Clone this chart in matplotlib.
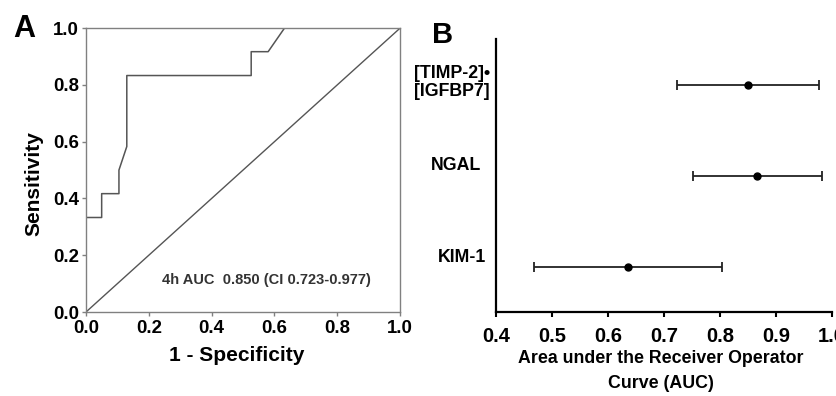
import matplotlib
matplotlib.use("Agg")
import matplotlib.pyplot as plt
import matplotlib.transforms as mtransforms

plt.rcParams['font.family'] = ['Liberation Sans', 'DejaVu Sans']
plt.rcParams['font.weight'] = 'bold'

# Panel A: ROC curve (1 - specificity, sensitivity)
roc_fpr = [0.0, 0.0, 0.05, 0.05, 0.105, 0.105, 0.13, 0.13, 0.526, 0.526, 0.58, 0.632, 1.0]
roc_tpr = [0.0, 0.333, 0.333, 0.417, 0.417, 0.5, 0.583, 0.833, 0.833, 0.917, 0.917, 1.0, 1.0]
roc_ticks = [0.0, 0.2, 0.4, 0.6, 0.8, 1.0]
auc_text = "4h AUC  0.850 (CI 0.723-0.977)"

# Panel B: AUC with confidence intervals
markers = ["[TIMP-2]\u2022\n[IGFBP7]", "NGAL", "KIM-1"]
auc = [0.850, 0.866, 0.636]
ci_low = [0.723, 0.751, 0.468]
ci_high = [0.977, 0.982, 0.804]
auc_ticks = [0.4, 0.5, 0.6, 0.7, 0.8, 0.9, 1.0]

fig = plt.figure(figsize=(8.37, 3.96), dpi=100)

# ---- panel A ----
axA = fig.add_axes([0.1027, 0.212, 0.3753, 0.717])
axA.plot(roc_fpr, roc_tpr, color='#555555', lw=1.1)
axA.plot([0, 1], [0, 1], color='#555555', lw=1.0)
axA.set_xlim(0, 1)
axA.set_ylim(0, 1)
axA.set_xticks(roc_ticks)
axA.set_yticks(roc_ticks)
axA.set_xticklabels([f"{t:.1f}" for t in roc_ticks])
axA.set_yticklabels([f"{t:.1f}" for t in roc_ticks])
for s in axA.spines.values():
    s.set_color('#808080')
    s.set_linewidth(1.0)
axA.tick_params(axis='both', direction='out', length=3, width=1.0, color='#808080',
                labelsize=13.4)
axA.tick_params(axis='x', pad=3)
axA.tick_params(axis='y', pad=2)
for lab in axA.get_xticklabels() + axA.get_yticklabels():
    lab.set_fontweight('bold')
axA.set_xlabel("1 - Specificity", fontsize=15, fontweight='bold')
axA.set_ylabel("Sensitivity", fontsize=15, fontweight='bold')
axA.xaxis.set_label_coords(0.481, -0.118)
axA.yaxis.set_label_coords(-0.137, 0.454)
axA.text(0.573, 0.113, auc_text, ha='center', va='center', fontsize=10.5,
         fontweight='bold', color='#333333', transform=axA.transAxes)

# ---- panel B ----
axB = fig.add_axes([0.5926, 0.212, 0.4014, 0.6895])
ypos = [3, 2, 1]
axB.errorbar(auc, ypos,
             xerr=[[a - l for a, l in zip(auc, ci_low)], [h - a for a, h in zip(auc, ci_high)]],
             fmt='o', color='black', ecolor='#222222', elinewidth=1.3, capsize=3.5,
             capthick=1.3, markersize=5)
axB.set_xlim(0.4, 1.0)
axB.set_ylim(0.5, 3.5)
axB.set_xticks(auc_ticks)
axB.set_xticklabels([f"{t:.1f}" for t in auc_ticks])
axB.set_yticks([])
axB.spines['top'].set_visible(False)
axB.spines['right'].set_visible(False)
for side in ('left', 'bottom'):
    axB.spines[side].set_linewidth(1.6)
    axB.spines[side].set_color('black')
axB.tick_params(axis='x', direction='out', length=3.5, width=1.5, labelsize=14.5, pad=7)
for lab in axB.get_xticklabels():
    lab.set_fontweight('bold')
axB.set_xlabel("Area under the Receiver Operator\nCurve (AUC)", fontsize=12.8,
               fontweight='bold', linespacing=1.62)
axB.xaxis.set_label_coords(0.49, -0.14)

trans = mtransforms.blended_transform_factory(axB.transAxes, axB.transData)
label_x = [-0.131, -0.119, -0.101]
label_dy = [0.02, 0.11, 0.10]
for name, y, lx, dy in zip(markers, ypos, label_x, label_dy):
    axB.text(lx, y + dy, name, ha='center', va='center', fontsize=12.8,
             fontweight='bold', linespacing=1.05, transform=trans, clip_on=False)

fig.text(0.0155, 0.9066, "A", fontsize=22, fontweight='bold', ha='left', va='baseline')
fig.text(0.516, 0.891, "B", fontsize=21, fontweight='bold', ha='left', va='baseline')

fig.savefig("out.png", dpi=100)
